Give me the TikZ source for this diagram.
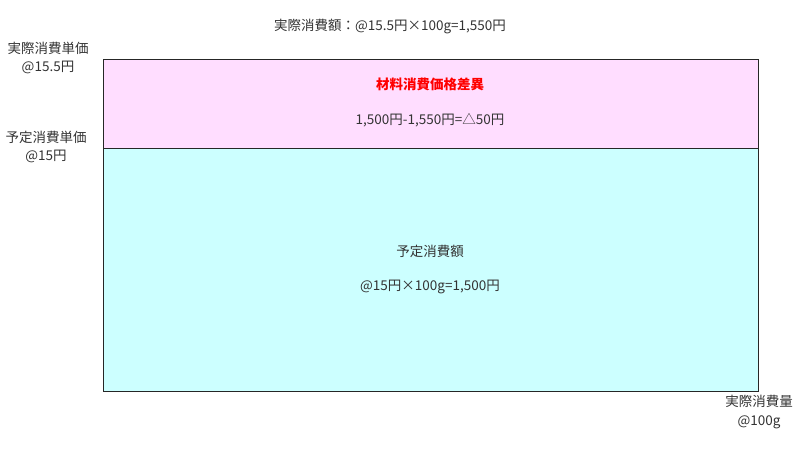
\documentclass[tikz,border=0pt]{standalone}
\usepackage{fontspec}
\setmainfont{Noto Sans CJK JP}
\definecolor{diffpink}{RGB}{255,221,255}
\definecolor{stdcyan}{RGB}{204,255,255}
\begin{document}
\begin{tikzpicture}[x=1pt,y=-1pt]
        \tikzset{
            lbl/.style={align=center,font=\fontsize{13.5}{18.5}\selectfont,text=black!80,inner sep=0pt},
            box/.style={draw=black!85,line width=0.8pt},
            title/.style={lbl,text=red,font=\fontsize{13.5}{18.5}\selectfont\bfseries}
        }
        \useasboundingbox (0,0) rectangle (800,450);
        \coordinate (tl) at (103,59);
        \coordinate (ml) at (103,148);
        \coordinate (mr) at (758,148);
        \coordinate (br) at (758,391);
        \fill[diffpink] (tl) rectangle (mr);
        \fill[stdcyan] (ml) rectangle (br);
        \draw[box] (tl) rectangle (br);
        \draw[box] (ml) -- (mr);
        \node[lbl] (actamt) at (390,27) {実際消費額：@15.5円×100g=1,550円};
        \node[lbl] (actprice) at (48,58) {実際消費単価\\@15.5円};
        \node[lbl] (stdprice) at (46,147) {予定消費単価\\@15円};
        \node[title] (diff) at (430,84) {材料消費価格差異};
        \node[lbl] (diffcalc) at (430,120) {1,500円-1,550円=△50円};
        \node[lbl] (stdamt) at (430,251) {予定消費額};
        \node[lbl] (stdcalc) at (430,287) {@15円×100g=1,500円};
        \node[lbl] (qty) at (759,412) {実際消費量\\@100g};
    \end{tikzpicture}
\end{document}
